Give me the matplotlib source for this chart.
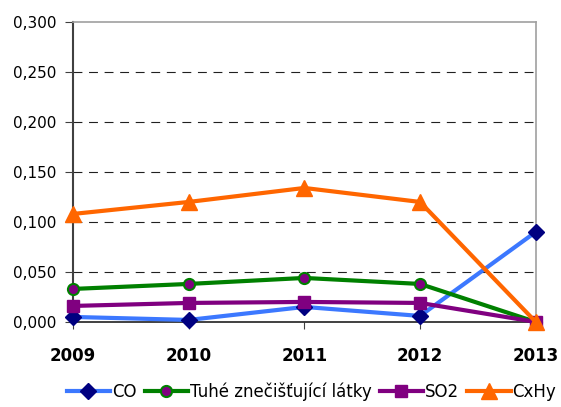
import matplotlib
matplotlib.use("Agg")
import matplotlib.pyplot as plt
from matplotlib.ticker import FuncFormatter

years = ["2009", "2010", "2011", "2012", "2013"]
co = [0.005, 0.002, 0.015, 0.006, 0.090]
tuhe = [0.033, 0.038, 0.044, 0.038, 0.000]
so2 = [0.016, 0.019, 0.020, 0.019, 0.000]
cxhy = [0.108, 0.120, 0.134, 0.120, 0.000]
yticks = [0.0, 0.05, 0.10, 0.15, 0.20, 0.25, 0.30]

plt.rcParams['font.family'] = ['Verdana', 'DejaVu Sans']
fig = plt.figure(figsize=(5.61, 4.07), dpi=100)
ax = fig.add_axes([0.130, 0.209, 0.825, 0.737])
x = list(range(len(years)))

ax.plot(x, co, color='#3C78FF', lw=3, marker='D', ms=8.5, mfc='#000080', mec='#000080', label='CO', zorder=3)
ax.plot(x, tuhe, color='#008000', lw=3, marker='o', ms=8, mfc='#800080', mec='#008000', mew=1.5, label='Tuhé znečišťující látky', zorder=3)
ax.plot(x, so2, color='#800080', lw=3, marker='s', ms=9, mfc='#800080', mec='#800080', label='SO2', zorder=3)
ax.plot(x, cxhy, color='#FF6600', lw=3, marker='^', ms=11, mfc='#FF6600', mec='#FF6600', label='CxHy', zorder=3)

ax.set_xlim(0, 4)
ax.set_ylim(0, 0.3)
ax.set_yticks(yticks)
ax.yaxis.set_major_formatter(FuncFormatter(lambda v, p: f"{v:.3f}".replace('.', ',')))
ax.set_xticks(x)
ax.set_xticklabels(years, fontweight='bold', fontsize=12)
ax.tick_params(axis='y', labelsize=11, length=6, color='#404040', pad=6)
ax.tick_params(axis='x', length=5, color='#404040', pad=13, direction='out')
for v in yticks[1:-1]:
    ax.axhline(v, color='#202020', lw=0.8, ls=(0, (8, 6)), zorder=1)
for s in ['top', 'right']:
    ax.spines[s].set_color('#A0A0A0')
    ax.spines[s].set_linewidth(1.2)
ax.spines['left'].set_color('#404040')
ax.spines['left'].set_linewidth(1.5)
ax.spines['bottom'].set_color('#202020')
ax.spines['bottom'].set_linewidth(1.2)

for l in ax.lines:
    l.set_clip_on(False)

fig.legend(loc='center', bbox_to_anchor=(0.555, 0.037), ncol=4, frameon=False,
           fontsize=12, handlelength=2.6, handletextpad=0.1, columnspacing=0.5)
fig.savefig("out.png", dpi=100)
